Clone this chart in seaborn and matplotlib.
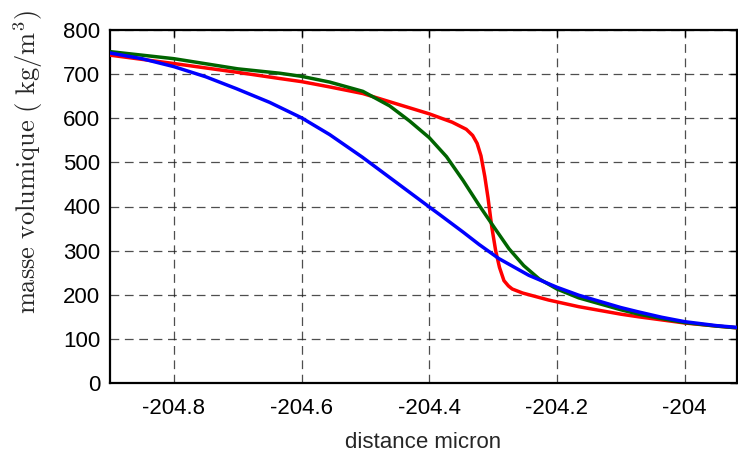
import numpy as np
import pandas as pd
import matplotlib
matplotlib.use("Agg")
import matplotlib.pyplot as plt
import seaborn as sns

# Blue series
x_blue = [-204.92, -204.9, -204.85, -204.8, -204.75, -204.702, -204.65, -204.6, -204.556, -204.505,
          -204.452, -204.4, -204.384, -204.347, -204.322, -204.291, -204.244, -204.2, -204.166,
          -204.1, -204.072, -204.036, -204.0, -203.95, -203.91]
y_blue = [752, 748, 735, 717, 694, 667, 636, 601, 563, 512,
          455, 399, 382, 342, 314, 282, 244, 217, 199,
          171, 161, 149, 139, 130, 125]

# Green series
x_green = [-204.92, -204.9, -204.8, -204.7, -204.634, -204.6, -204.556, -204.504, -204.462, -204.431,
           -204.4, -204.373, -204.347, -204.322, -204.298, -204.275, -204.252, -204.228, -204.2,
           -204.166, -204.1, -204.072, -204.036, -204.0, -203.95, -203.91]
y_green = [754, 751, 735, 712, 702, 695, 682, 661, 628, 594,
           556, 513, 459, 403, 352, 304, 266, 236, 213,
           193, 166, 156, 146, 137, 129, 124]

# Red series
x_red = [-204.92, -204.9, -204.8, -204.7, -204.634, -204.6, -204.556, -204.504, -204.452, -204.4,
         -204.364, -204.342, -204.332, -204.325, -204.319, -204.313, -204.308, -204.302, -204.296,
         -204.29, -204.283, -204.276, -204.27, -204.254, -204.213, -204.166, -204.1, -204.072,
         -204.036, -204.0, -203.95, -203.91]
y_red = [746, 743, 724, 704, 690, 683, 671, 656, 633, 610,
         591, 575, 561, 543, 515, 468, 420, 353, 300,
         262, 232, 220, 213, 204, 188, 173, 156, 150, 143, 136, 129, 124]

df = pd.concat([
    pd.DataFrame({"x": x_red, "y": y_red, "s": "red"}),
    pd.DataFrame({"x": x_green, "y": y_green, "s": "green"}),
    pd.DataFrame({"x": x_blue, "y": y_blue, "s": "blue"}),
], ignore_index=True)

sns.set_style("white")
plt.rcParams["font.family"] = ["Liberation Sans", "DejaVu Sans"]
plt.rcParams["mathtext.fontset"] = "cm"

fig = plt.figure(figsize=(7.38, 4.54), dpi=100)
ax = fig.add_axes([110/738, 1-383/454, (737-110)/738, (383-30)/454])

palette = {"red": "#ff0000", "green": "#006400", "blue": "#0000ff"}
sns.lineplot(data=df, x="x", y="y", hue="s", palette=palette, sort=False,
             estimator=None, linewidth=2.5, legend=False, ax=ax, zorder=3)

ax.set_xlim(-204.9, -203.918)
ax.set_ylim(0, 800)
ax.set_xticks([-204.8, -204.6, -204.4, -204.2, -204.0])
ax.set_xticklabels(["-204.8", "-204.6", "-204.4", "-204.2", "-204"])
ax.set_yticks(range(0, 801, 100))
ax.grid(True, color="#222222", linestyle=(0, (7, 4.5)), linewidth=0.9, alpha=0.8)
ax.tick_params(axis="both", direction="in", length=5, width=1, labelsize=16, colors="black",
               pad=7, top=True, right=True)
ax.tick_params(axis="x", pad=11)
for s in ["left", "bottom", "top", "right"]:
    ax.spines[s].set_color("black")
    ax.spines[s].set_linewidth(1.6)
ax.set_xlabel("distance micron", fontsize=16, labelpad=9)
ax.set_ylabel(r"$\mathrm{masse\ volumique\ (\ kg/m^3)}$", fontsize=19)
ax.yaxis.set_label_coords(-0.104, 0.625)

fig.savefig("out.png", dpi=100)
